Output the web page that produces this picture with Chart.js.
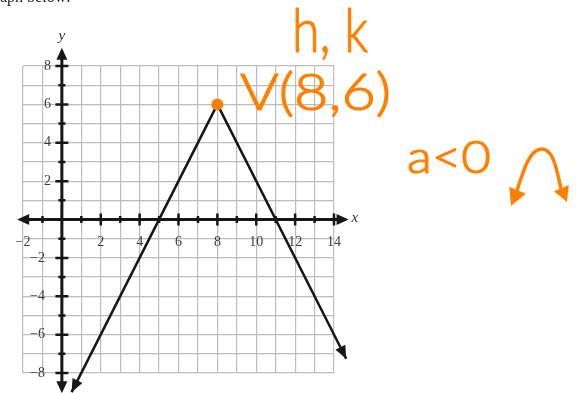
<!DOCTYPE html>
<html>
<head>
<meta charset="utf-8">
<script src="https://cdn.jsdelivr.net/npm/chart.js@4.4.1/dist/chart.umd.min.js"></script>
<style>
  html, body { margin: 0; padding: 0; background: #fff; }
  #graph { display: block; }
</style>
</head>
<body>
<canvas id="graph" width="580" height="393"></canvas>
<script>
// graph paper extent (one square per unit)
const xRange = [-2, 14];
const yRange = [-8, 8];
const xLabels = [-2, 2, 4, 6, 8, 10, 12, 14];
const yLabels = [8, 6, 4, 2, -2, -4, -6, -8];

// y = -2|x - 8| + 6, from arrow tip to arrow tip
const lineX = [0.5, 8, 14.63];
const lineY = [-9, 6, -7.26];
const vertex = [8, 6];

// where the axis arrows end
const xAxisEnds = [-2.3, 14.75];
const yAxisEnds = [-9.05, 8.95];

const INK = '#161616';
const PEN = '#ff8000';

function arrowHead(ctx, fx, fy, tx, ty, len, half) {
  const a = Math.atan2(ty - fy, tx - fx);
  const bx = tx - Math.cos(a) * len, by = ty - Math.sin(a) * len;
  ctx.beginPath();
  ctx.moveTo(tx, ty);
  ctx.lineTo(bx + Math.sin(a) * half, by - Math.cos(a) * half);
  ctx.lineTo(bx - Math.sin(a) * half, by + Math.cos(a) * half);
  ctx.closePath();
  ctx.fill();
}

// squeeze a string into a given horizontal span, with a slightly heavier pen line
function fitText(ctx, text, left, right, baseline, font) {
  ctx.font = font;
  const w = ctx.measureText(text).width;
  ctx.save();
  ctx.translate(left, baseline);
  ctx.scale((right - left) / w, 1);
  ctx.textAlign = 'left';
  ctx.textBaseline = 'alphabetic';
  ctx.lineWidth = 1.2;
  ctx.lineJoin = 'round';
  ctx.fillText(text, 0, 0);
  ctx.strokeText(text, 0, 0);
  ctx.restore();
}

const graphPaper = {
  id: 'graphPaper',
  beforeDatasetsDraw(chart) {
    const { ctx, scales: { x, y } } = chart;
    const x0 = x.getPixelForValue(0), y0 = y.getPixelForValue(0);
    ctx.save();
    ctx.strokeStyle = INK;
    ctx.fillStyle = INK;
    ctx.lineCap = 'butt';

    // axes with arrows on both ends
    const xl = x.getPixelForValue(xAxisEnds[0]), xr = x.getPixelForValue(xAxisEnds[1]);
    const yb = y.getPixelForValue(yAxisEnds[0]), yt = y.getPixelForValue(yAxisEnds[1]);
    ctx.lineWidth = 3;
    ctx.beginPath();
    ctx.moveTo(xl + 8, y0); ctx.lineTo(xr - 8, y0);
    ctx.moveTo(x0, yb - 8); ctx.lineTo(x0, yt + 8);
    ctx.stroke();
    arrowHead(ctx, x0, y0, xl, y0, 12, 5.5);
    arrowHead(ctx, x0, y0, xr, y0, 12, 5.5);
    arrowHead(ctx, x0, y0, x0, yt, 12, 5.5);
    arrowHead(ctx, x0, y0, x0, yb, 12, 5.5);

    // unit ticks, longer on even numbers
    ctx.lineWidth = 2.5;
    ctx.beginPath();
    for (let v = xRange[0] + 1; v <= xRange[1]; v++) {
      if (v === 0) continue;
      const px = x.getPixelForValue(v), h = v % 2 === 0 ? 6 : 3.5;
      ctx.moveTo(px, y0 - h); ctx.lineTo(px, y0 + h);
    }
    for (let v = yRange[0]; v <= yRange[1]; v++) {
      if (v === 0) continue;
      const py = y.getPixelForValue(v), h = v % 2 === 0 ? 6.5 : 3.5;
      ctx.moveTo(x0 - h, py); ctx.lineTo(x0 + h, py);
    }
    ctx.stroke();

    // tick labels
    ctx.fillStyle = '#3c3c3c';
    ctx.font = '14px "Liberation Serif", serif';
    ctx.textBaseline = 'middle';
    ctx.textAlign = 'center';
    xLabels.forEach(v => {
      ctx.fillText(String(v).replace('-', '\u2212'), x.getPixelForValue(v), y0 + 23);
    });
    ctx.textAlign = 'right';
    yLabels.forEach(v => {
      ctx.fillText(String(v).replace('-', '\u2212'), x0 - (v < 0 ? 17 : 11), y.getPixelForValue(v));
    });

    // axis names
    ctx.fillStyle = '#333';
    ctx.font = 'italic 15px "Liberation Serif", serif';
    ctx.textAlign = 'center';
    ctx.fillText('y', x0, y.getPixelForValue(yAxisEnds[1]) - 12);
    ctx.textAlign = 'left';
    ctx.fillText('x', x.getPixelForValue(xAxisEnds[1]) + 3, y0 - 1);

    // heading text running off the top edge
    ctx.fillStyle = '#222';
    ctx.font = '16px "Liberation Serif", serif';
    ctx.textBaseline = 'alphabetic';
    ctx.fillText('Graph below:', -ctx.measureText('Gr').width, 2);
    ctx.restore();
  },
  afterDatasetsDraw(chart) {
    const { ctx, scales: { x, y } } = chart;
    ctx.save();
    // arrowheads on both ends of the graphed line
    ctx.fillStyle = INK;
    const n = lineX.length;
    arrowHead(ctx, x.getPixelForValue(lineX[1]), y.getPixelForValue(lineY[1]),
      x.getPixelForValue(lineX[0]), y.getPixelForValue(lineY[0]), 13, 5.5);
    arrowHead(ctx, x.getPixelForValue(lineX[n - 2]), y.getPixelForValue(lineY[n - 2]),
      x.getPixelForValue(lineX[n - 1]), y.getPixelForValue(lineY[n - 1]), 13, 5.5);

    // pen notes
    ctx.fillStyle = PEN;
    ctx.strokeStyle = PEN;
    fitText(ctx, 'h, k', 292, 368, 52, '300 62px Lato, sans-serif');
    fitText(ctx, 'V(8,6)', 240, 391, 110, '300 52px Lato, sans-serif');
    fitText(ctx, 'a<0', 407, 491, 173, '300 46px Lato, sans-serif');

    // sketch of a downward opening shape
    ctx.lineWidth = 3.5;
    ctx.lineCap = 'round';
    ctx.beginPath();
    ctx.moveTo(516, 194);
    ctx.bezierCurveTo(524, 168, 530, 149, 542, 149);
    ctx.bezierCurveTo(554, 149, 557, 172, 562, 193);
    ctx.stroke();
    arrowHead(ctx, 522, 180, 511, 206, 17, 9);
    arrowHead(ctx, 558, 180, 567, 202, 15, 8);
    ctx.restore();
  }
};

new Chart(document.getElementById('graph'), {
  type: 'scatter',
  data: {
    datasets: [
      {
        data: [{ x: vertex[0], y: vertex[1] }],
        pointRadius: 6,
        pointBackgroundColor: PEN,
        pointBorderWidth: 0,
        order: 0
      },
      {
        data: lineX.map((v, i) => ({ x: v, y: lineY[i] })),
        showLine: true,
        borderColor: INK,
        borderWidth: 2.5,
        pointRadius: 0,
        clip: false,
        order: 1
      }
    ]
  },
  options: {
    responsive: false,
    animation: false,
    layout: { padding: { left: 23, right: 246, top: 66, bottom: 20 } },
    plugins: { legend: { display: false }, tooltip: { enabled: false } },
    scales: {
      x: {
        type: 'linear', min: xRange[0], max: xRange[1],
        ticks: { display: false, stepSize: 1 },
        grid: { color: '#bdbdbd', lineWidth: 1.2, drawTicks: false },
        border: { display: false }
      },
      y: {
        type: 'linear', min: yRange[0], max: yRange[1],
        ticks: { display: false, stepSize: 1 },
        grid: { color: '#bdbdbd', lineWidth: 1.2, drawTicks: false },
        border: { display: false }
      }
    }
  },
  plugins: [graphPaper]
});
</script>
</body>
</html>
